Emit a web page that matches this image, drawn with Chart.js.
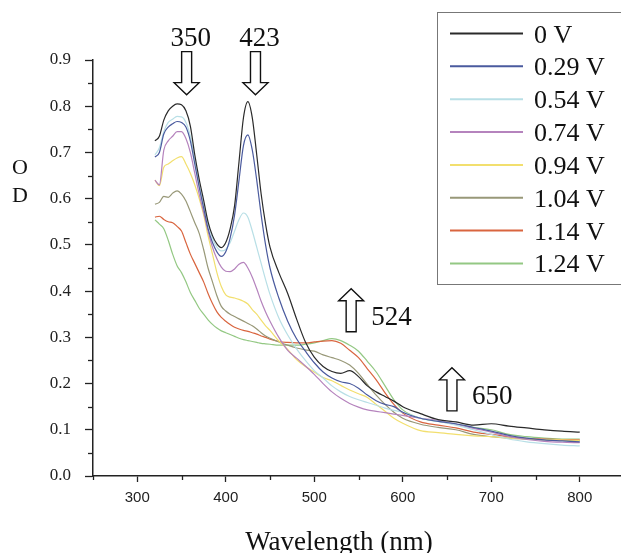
<!DOCTYPE html>
<html>
<head>
<meta charset="utf-8">
<script src="https://cdn.jsdelivr.net/npm/chart.js@4.4.1/dist/chart.umd.min.js"></script>
<style>
  html, body { margin: 0; padding: 0; background: #fff; overflow: hidden; }
  #wrap { width: 624px; height: 553px; }
</style>
</head>
<body>
<div id="wrap"><canvas id="chartarea" width="624" height="553"></canvas></div>
<script>
// wavelength grid (nm) shared by all spectra
var wavelengths = [320, 325, 330, 335, 340, 345, 350, 355, 360, 365, 370, 375, 380, 385, 390, 395,
    400, 405, 410, 415, 420, 425, 430, 435, 440, 445, 450, 460, 470, 480, 490, 500, 510, 520,
    530, 540, 550, 560, 570, 580, 590, 600, 620, 640, 660, 680, 700, 720, 740, 760, 780, 800];

var od_0V = [0.725, 0.735, 0.77, 0.79, 0.8, 0.805, 0.803, 0.79, 0.757, 0.695, 0.642, 0.597, 0.55, 0.52, 0.502, 0.494,
    0.505, 0.535, 0.585, 0.68, 0.775, 0.81, 0.775, 0.695, 0.61, 0.545, 0.495, 0.44, 0.395, 0.34, 0.29, 0.257, 0.237, 0.226,
    0.222, 0.228, 0.215, 0.195, 0.182, 0.172, 0.162, 0.15, 0.135, 0.122, 0.117, 0.11, 0.113, 0.108, 0.104, 0.1, 0.097, 0.095];
var od_029V = [0.69, 0.7, 0.74, 0.755, 0.762, 0.767, 0.765, 0.755, 0.725, 0.675, 0.625, 0.58, 0.535, 0.505, 0.485, 0.475,
    0.485, 0.515, 0.565, 0.64, 0.715, 0.738, 0.705, 0.64, 0.565, 0.5, 0.45, 0.385, 0.335, 0.297, 0.27, 0.245, 0.225, 0.212,
    0.204, 0.2, 0.19, 0.175, 0.163, 0.155, 0.15, 0.138, 0.125, 0.118, 0.113, 0.105, 0.097, 0.088, 0.082, 0.078, 0.076, 0.074];
var od_054V = [0.695, 0.71, 0.745, 0.765, 0.772, 0.778, 0.777, 0.765, 0.735, 0.685, 0.63, 0.585, 0.545, 0.515, 0.495, 0.487,
    0.49, 0.505, 0.53, 0.555, 0.569, 0.56, 0.53, 0.495, 0.46, 0.425, 0.393, 0.342, 0.305, 0.275, 0.25, 0.228, 0.212, 0.195,
    0.182, 0.172, 0.165, 0.159, 0.153, 0.147, 0.142, 0.138, 0.125, 0.118, 0.11, 0.1, 0.09, 0.08, 0.074, 0.07, 0.067, 0.065];
var od_074V = [0.64, 0.63, 0.705, 0.725, 0.735, 0.745, 0.745, 0.73, 0.7, 0.655, 0.61, 0.57, 0.53, 0.495, 0.47, 0.452,
    0.443, 0.442, 0.448, 0.458, 0.462, 0.45, 0.43, 0.405, 0.378, 0.355, 0.335, 0.3, 0.272, 0.255, 0.238, 0.22, 0.2, 0.182,
    0.168, 0.157, 0.149, 0.143, 0.14, 0.137, 0.134, 0.131, 0.125, 0.12, 0.112, 0.103, 0.095, 0.085, 0.079, 0.075, 0.073, 0.072];
var od_094V = [0.64, 0.628, 0.668, 0.675, 0.682, 0.688, 0.691, 0.675, 0.655, 0.63, 0.6, 0.565, 0.52, 0.48, 0.44, 0.41,
    0.392, 0.387, 0.385, 0.382, 0.378, 0.372, 0.36, 0.35, 0.337, 0.325, 0.315, 0.292, 0.274, 0.252, 0.237, 0.225, 0.213, 0.206,
    0.196, 0.186, 0.178, 0.17, 0.155, 0.14, 0.125, 0.114, 0.098, 0.094, 0.09, 0.087, 0.085, 0.082, 0.08, 0.079, 0.078, 0.077];
var od_104V = [0.588, 0.592, 0.605, 0.603, 0.612, 0.617, 0.61, 0.595, 0.572, 0.548, 0.525, 0.49, 0.45, 0.42, 0.39, 0.367,
    0.357, 0.35, 0.345, 0.34, 0.335, 0.33, 0.325, 0.318, 0.31, 0.303, 0.298, 0.29, 0.283, 0.277, 0.273, 0.27, 0.262, 0.256,
    0.25, 0.24, 0.222, 0.198, 0.175, 0.155, 0.138, 0.125, 0.112, 0.105, 0.1, 0.09, 0.085, 0.082, 0.08, 0.078, 0.077, 0.076];
var od_114V = [0.56, 0.562, 0.555, 0.55, 0.548, 0.54, 0.53, 0.505, 0.48, 0.46, 0.44, 0.42, 0.395, 0.373, 0.355, 0.343,
    0.335, 0.328, 0.322, 0.318, 0.315, 0.313, 0.31, 0.307, 0.303, 0.3, 0.296, 0.291, 0.289, 0.288, 0.288, 0.29, 0.292, 0.293,
    0.287, 0.272, 0.256, 0.232, 0.208, 0.18, 0.155, 0.136, 0.117, 0.11, 0.104, 0.095, 0.09, 0.085, 0.081, 0.08, 0.079, 0.078];
var od_124V = [0.554, 0.545, 0.535, 0.51, 0.48, 0.455, 0.44, 0.42, 0.397, 0.38, 0.363, 0.35, 0.338, 0.328, 0.32, 0.314,
    0.31, 0.306, 0.302, 0.298, 0.295, 0.293, 0.291, 0.289, 0.287, 0.286, 0.285, 0.283, 0.283, 0.283, 0.285, 0.288, 0.293, 0.297,
    0.293, 0.283, 0.27, 0.248, 0.225, 0.195, 0.165, 0.143, 0.125, 0.118, 0.112, 0.105, 0.1, 0.09, 0.085, 0.082, 0.08, 0.08];

var seriesLabels = ["0 V", "0.29 V", "0.54 V", "0.74 V", "0.94 V", "1.04 V", "1.14 V", "1.24 V"];
var seriesValues = [od_0V, od_029V, od_054V, od_074V, od_094V, od_104V, od_114V, od_124V];
var seriesColors = ["#2a2a2a", "#4a5a9e", "#b8dfe6", "#b583bd", "#f2df6e", "#989878", "#d9653f", "#93c883"];

var xTicks = [300, 400, 500, 600, 700, 800];
var yTicks = [0, 0.1, 0.2, 0.3, 0.4, 0.5, 0.6, 0.7, 0.8, 0.9];

// peak markers: label, arrow wavelength, arrow tip OD, direction
var peakLabels = ["350", "423", "524", "650"];
var peakArrowWl = [355.8, 433.6, 541.7, 655.6];
var peakArrowTip = [0.825, 0.825, 0.405, 0.234];
var peakArrowDir = ["down", "down", "up", "up"];

var serif = "'Liberation Serif', 'Times New Roman', serif";

function drawArrow(ctx, cx, yStart, yTip) {
    // outlined block arrow pointing from yStart to yTip
    var dir = yTip > yStart ? 1 : -1;
    var shaftW = 5, headW = 12.5, headL = 12;
    var yNeck = yTip - dir * headL;
    ctx.beginPath();
    ctx.moveTo(cx - shaftW, yStart);
    ctx.lineTo(cx + shaftW, yStart);
    ctx.lineTo(cx + shaftW, yNeck);
    ctx.lineTo(cx + headW, yNeck);
    ctx.lineTo(cx, yTip);
    ctx.lineTo(cx - headW, yNeck);
    ctx.lineTo(cx - shaftW, yNeck);
    ctx.closePath();
    ctx.fillStyle = "#fff";
    ctx.fill();
    ctx.lineWidth = 1.4;
    ctx.strokeStyle = "#111";
    ctx.stroke();
}

var decorPlugin = {
    id: "decor",
    afterDraw: function (chart) {
        var ctx = chart.ctx;
        var xs = chart.scales.x, ys = chart.scales.y;
        var area = chart.chartArea;
        ctx.save();

        // minor ticks
        ctx.strokeStyle = "#222";
        ctx.lineWidth = 1.3;
        for (var v = 0.05; v < 0.9; v += 0.1) {
            var py = Math.round(ys.getPixelForValue(v)) + 0.5;
            ctx.beginPath();
            ctx.moveTo(area.left - 5, py);
            ctx.lineTo(area.left, py);
            ctx.stroke();
        }
        for (var w = 250; w <= 850; w += 100) {
            var px = Math.round(xs.getPixelForValue(w)) + 0.5;
            ctx.beginPath();
            ctx.moveTo(px, area.bottom);
            ctx.lineTo(px, area.bottom + 4);
            ctx.stroke();
        }

        // axis titles
        ctx.fillStyle = "#111";
        ctx.textAlign = "center";
        ctx.textBaseline = "alphabetic";
        ctx.font = "22px " + serif;
        ctx.fillText("O", 20, 174);
        ctx.fillText("D", 20, 202);
        ctx.font = "27px " + serif;
        ctx.fillText("Wavelength (nm)", 339, 550);

        // peak arrows and labels
        peakLabels.forEach(function (lab, i) {
            var cx = xs.getPixelForValue(peakArrowWl[i]);
            var tip = ys.getPixelForValue(peakArrowTip[i]);
            if (peakArrowDir[i] === "down") {
                drawArrow(ctx, cx, tip - 43, tip);
            } else {
                drawArrow(ctx, cx, tip + 43, tip);
            }
            ctx.font = "27px " + serif;
            ctx.fillStyle = "#111";
            if (peakArrowDir[i] === "down") {
                ctx.textAlign = "center";
                ctx.fillText(lab, cx + 4, tip - 49);
            } else {
                ctx.textAlign = "left";
                ctx.fillText(lab, cx + 20, tip + 36);
            }
        });

        // legend box
        ctx.strokeStyle = "#777";
        ctx.lineWidth = 1;
        ctx.strokeRect(437.5, 12.5, 200, 272);
        ctx.textAlign = "left";
        ctx.font = "26px " + serif;
        seriesLabels.forEach(function (lab, i) {
            var ly = 33.5 + 32.85 * i;
            ctx.strokeStyle = seriesColors[i];
            ctx.lineWidth = 2;
            ctx.beginPath();
            ctx.moveTo(450, ly);
            ctx.lineTo(523, ly);
            ctx.stroke();
            ctx.fillStyle = "#111";
            ctx.fillText(lab, 534, ly + 9);
        });
        ctx.restore();
    }
};

var ctx = document.getElementById("chartarea");

var data = {
    datasets: seriesLabels.map(function (lab, i) {
        return {
            label: lab,
            data: wavelengths.map(function (w, j) { return { x: w, y: seriesValues[i][j] }; }),
            borderColor: seriesColors[i],
            borderWidth: 1.2,
            pointRadius: 0,
            cubicInterpolationMode: "monotone",
            fill: false,
            order: i // 0 V drawn on top
        };
    })
};

var options = {
    animation: false,
    responsive: false,
    layout: { padding: { top: 60, left: 0, right: 0, bottom: 0 } },
    plugins: { legend: { display: false }, tooltip: { enabled: false } },
    scales: {
        x: {
            type: "linear",
            min: 250,
            max: 850,
            afterFit: function (s) { s.height = 77; },
            afterBuildTicks: function (s) { s.ticks = xTicks.map(function (v) { return { value: v }; }); },
            border: { display: true, color: "#222", width: 1.5 },
            grid: { drawOnChartArea: false, drawTicks: true, tickLength: 6, tickColor: "#222", tickWidth: 1.3 },
            ticks: {
                padding: 7,
                color: "#222",
                font: { family: "'Liberation Sans', Arial, sans-serif", size: 15 },
                maxRotation: 0,
                callback: function (v) { return v; }
            }
        },
        y: {
            min: 0,
            max: 0.9,
            afterFit: function (s) { s.width = 93; },
            afterBuildTicks: function (s) { s.ticks = yTicks.map(function (v) { return { value: v }; }); },
            border: { display: true, color: "#222", width: 1.5 },
            grid: { drawOnChartArea: false, drawTicks: true, tickLength: 8, tickColor: "#222", tickWidth: 1.3 },
            ticks: {
                padding: 14,
                color: "#222",
                font: { family: serif, size: 17 },
                callback: function (v) { return Number(v).toFixed(1); }
            }
        }
    }
};

new Chart(ctx, {
    type: "line",
    data: data,
    options: options,
    plugins: [decorPlugin]
});
</script>
</body>
</html>
